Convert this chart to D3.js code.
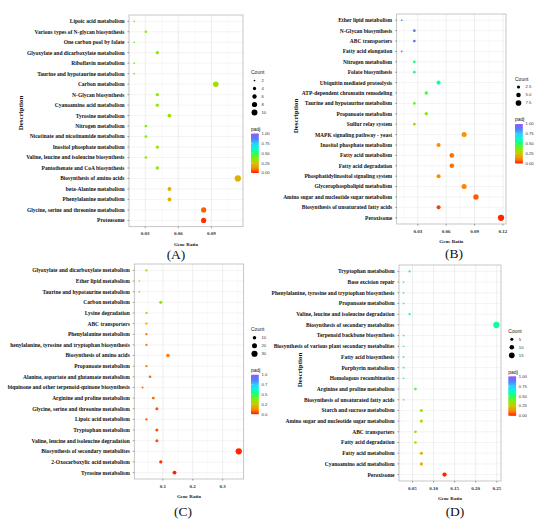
<!DOCTYPE html>
<html lang="en">
<head>
  <meta charset="UTF-8" />
  <title>KEGG enrichment</title>
  <script src="https://cdn.jsdelivr.net/npm/d3@7"></script>
  <style>
    body { margin: 0; background: #fff; }
    .term { font-family: "Liberation Serif", serif; font-weight: bold; font-size: 5.5px; fill: #111; }
    .tick-label { font-family: "Liberation Serif", serif; font-weight: bold; font-size: 5px; fill: #333; }
    .axis-title { font-family: "Liberation Serif", serif; font-weight: bold; font-size: 5px; fill: #111; }
    .desc { font-family: "Liberation Serif", serif; font-weight: bold; font-size: 7px; fill: #111; }
    .tag { font-family: "Liberation Serif", serif; font-size: 13.5px; fill: #111; }
    .leg-title { font-family: "Liberation Sans", sans-serif; font-size: 5px; fill: #1a1a1a; }
    .leg-label { font-family: "Liberation Sans", sans-serif; font-size: 4.2px; fill: #333; }
  </style>
</head>
<body>
<script>
  const width = 550;
  const height = 524;

  // panel A
  const aTerms = ["Lipoic acid metabolism", "Various types of N-glycan biosynthesis", "One carbon pool by folate",
    "Glyoxylate and dicarboxylate metabolism", "Riboflavin metabolism", "Taurine and hypotaurine metabolism",
    "Carbon metabolism", "N-Glycan biosynthesis", "Cyanoamino acid metabolism", "Tyrosine metabolism",
    "Nitrogen metabolism", "Nicotinate and nicotinamide metabolism", "Inositol phosphate metabolism",
    "Valine, leucine and isoleucine biosynthesis", "Pantothenate and CoA biosynthesis", "Biosynthesis of amino acids",
    "beta-Alanine metabolism", "Phenylalanine metabolism", "Glycine, serine and threonine metabolism", "Proteasome"];
  const aRatio = [0.020, 0.0306, 0.020, 0.041, 0.020, 0.020, 0.094, 0.041, 0.041, 0.052,
    0.0306, 0.0306, 0.041, 0.0306, 0.041, 0.114, 0.052, 0.052, 0.083, 0.083];
  const aCount = [2, 3, 2, 4, 2, 2, 9, 4, 4, 5, 3, 3, 4, 3, 4, 11, 5, 5, 8, 8];
  const aPadj = [0.41, 0.37, 0.41, 0.35, 0.41, 0.41, 0.33, 0.34, 0.34, 0.33,
    0.36, 0.36, 0.34, 0.36, 0.34, 0.2, 0.2, 0.2, 0.07, 0.02];
  const aTicks = [0.03, 0.06, 0.09];
  const aCountBreaks = [2, 4, 6, 8, 10];
  const aCountLabels = ["2", "4", "6", "8", "10"];
  const aPadjLabels = ["1.00", "0.75", "0.50", "0.25", "0.00"];

  // panel B
  const bTerms = ["Ether lipid metabolism", "N-Glycan biosynthesis", "ABC transporters", "Fatty acid elongation",
    "Nitrogen metabolism", "Folate biosynthesis", "Ubiquitin mediated proteolysis", "ATP-dependent chromatin remodeling",
    "Taurine and hypotaurine metabolism", "Propanoate metabolism", "Sulfur relay system", "MAPK signaling pathway - yeast",
    "Inositol phosphate metabolism", "Fatty acid metabolism", "Fatty acid degradation", "Phosphatidylinositol signaling system",
    "Glycerophospholipid metabolism", "Amino sugar and nucleotide sugar metabolism", "Biosynthesis of unsaturated fatty acids",
    "Peroxisome"];
  const bRatio = [0.013, 0.0264, 0.0264, 0.013, 0.0264, 0.0264, 0.052, 0.039, 0.0264, 0.039,
    0.0264, 0.079, 0.052, 0.066, 0.066, 0.052, 0.079, 0.0915, 0.052, 0.118];
  const bCount = [1, 2, 2, 1, 2, 2, 4, 3, 2, 3, 2, 6, 4, 5, 5, 4, 6, 7, 4, 9];
  const bPadj = [0.9, 0.9, 0.9, 0.9, 0.53, 0.53, 0.56, 0.46, 0.42, 0.36,
    0.27, 0.14, 0.12, 0.09, 0.09, 0.12, 0.11, 0.07, 0.04, 0.01];
  const bTicks = [0.03, 0.06, 0.09, 0.12];
  const bCountBreaks = [2.5, 5, 7.5];
  const bCountLabels = ["2.5", "5.0", "7.5"];
  const bPadjLabels = ["1.00", "0.75", "0.50", "0.25", "0.00"];

  // panel C
  const cTerms = ["Glyoxylate and dicarboxylate metabolism", "Ether lipid metabolism", "Taurine and hypotaurine metabolism",
    "Carbon metabolism", "Lysine degradation", "ABC transporters", "Phenylalanine metabolism",
    "henylalanine, tyrosine and tryptophan biosynthesis", "Biosynthesis of amino acids", "Propanoate metabolism",
    "Alanine, aspartate and glutamate metabolism", "biquinone and other terpenoid-quinone biosynthesis",
    "Arginine and proline metabolism", "Glycine, serine and threonine metabolism", "Lipoic acid metabolism",
    "Tryptophan metabolism", "Valine, leucine and isoleucine degradation", "Biosynthesis of secondary metabolites",
    "2-Oxocarboxylic acid metabolism", "Tyrosine metabolism"];
  const cRatio = [0.045, 0.021, 0.021, 0.093, 0.045, 0.045, 0.045, 0.045, 0.117, 0.045,
    0.057, 0.032, 0.068, 0.080, 0.045, 0.080, 0.080, 0.354, 0.093, 0.139];
  const cCount = [4, 2, 2, 8, 4, 4, 4, 4, 10, 4, 5, 3, 6, 7, 4, 7, 7, 31, 8, 12];
  const cPadj = [0.35, 0.36, 0.36, 0.34, 0.3, 0.2, 0.1, 0.1, 0.1, 0.1,
    0.08, 0.08, 0.08, 0.06, 0.06, 0.05, 0.05, 0.01, 0.02, 0.005];
  const cTicks = [0.1, 0.2, 0.3];
  const cCountBreaks = [10, 20, 30];
  const cCountLabels = ["10", "20", "30"];
  const cPadjLabels = ["1.0", "0.7", "0.5", "0.2", "0.0"];

  // panel D
  const dTerms = ["Tryptophan metabolism", "Base excision repair", "Phenylalanine, tyrosine and tryptophan biosynthesis",
    "Propanoate metabolism", "Valine, leucine and isoleucine degradation", "Biosynthesis of secondary metabolites",
    "Terpenoid backbone biosynthesis", "Biosynthesis of various plant secondary metabolites", "Fatty acid biosynthesis",
    "Porphyrin metabolism", "Homologous recombination", "Arginine and proline metabolism",
    "Biosynthesis of unsaturated fatty acids", "Starch and sucrose metabolism", "Amino sugar and nucleotide sugar metabolism",
    "ABC transporters", "Fatty acid degradation", "Fatty acid metabolism", "Cyanoamino acid metabolism", "Peroxisome"];
  const dRatio = [0.043, 0.029, 0.029, 0.029, 0.043, 0.249, 0.029, 0.029, 0.029, 0.029,
    0.029, 0.057, 0.029, 0.071, 0.071, 0.057, 0.057, 0.071, 0.071, 0.126];
  const dCount = [3, 2, 2, 2, 3, 18, 2, 2, 2, 2, 2, 4, 2, 5, 5, 4, 4, 5, 5, 9];
  const dPadj = [0.6, 0.62, 0.62, 0.62, 0.6, 0.56, 0.62, 0.62, 0.62, 0.62,
    0.62, 0.45, 0.45, 0.35, 0.35, 0.34, 0.34, 0.2, 0.2, 0.01];
  const dTicks = [0.05, 0.10, 0.15, 0.20, 0.25];
  const dCountBreaks = [5, 10, 15];
  const dCountLabels = ["5", "10", "15"];
  const dPadjLabels = ["1.00", "0.75", "0.50", "0.25", "0.00"];

  // padj colour ramp (red -> purple)
  const rampPos = [0, 0.12, 0.25, 0.37, 0.5, 0.62, 0.75, 0.87, 1];
  const rampCol = ["#ff1a00", "#ff8c00", "#c8c800", "#88ee00", "#22ff66", "#00ffd0", "#33ccff", "#4d80ff", "#9a55ff"];
  const color = d3.scaleLinear().domain(rampPos).range(rampCol).interpolate(d3.interpolateRgb);

  // layout of each panel (frame box, legend, labels)
  const panels = [
    { id: "a", terms: aTerms, ratio: aRatio, count: aCount, padj: aPadj, ticks: aTicks, fmt: d3.format(".2f"),
      countBreaks: aCountBreaks, countLabels: aCountLabels, padjLabels: aPadjLabels,
      x0: 129, x1: 243, y0: 15, y1: 226.7, legX: 251, legY: 72.5, tag: "(A)", tagX: 176, tagY: 259, desc: [20.7, 113] },
    { id: "b", terms: bTerms, ratio: bRatio, count: bCount, padj: bPadj, ticks: bTicks, fmt: d3.format(".2f"),
      countBreaks: bCountBreaks, countLabels: bCountLabels, padjLabels: bPadjLabels,
      x0: 396.7, x1: 506, y0: 14, y1: 224, legX: 515, legY: 79, tag: "(B)", tagX: 454, tagY: 258, desc: [295.7, 116] },
    { id: "c", terms: cTerms, ratio: cRatio, count: cCount, padj: cPadj, ticks: cTicks, fmt: d3.format(".1f"),
      countBreaks: cCountBreaks, countLabels: cCountLabels, padjLabels: cPadjLabels,
      x0: 134.3, x1: 243.7, y0: 264, y1: 479, legX: 251, legY: 329.7, tag: "(C)", tagX: 183, tagY: 516, desc: null },
    { id: "d", terms: dTerms, ratio: dRatio, count: dCount, padj: dPadj, ticks: dTicks, fmt: d3.format(".2f"),
      countBreaks: dCountBreaks, countLabels: dCountLabels, padjLabels: dPadjLabels,
      x0: 399, x1: 501, y0: 265, y1: 481, legX: 508.3, legY: 331.3, tag: "(D)", tagX: 455, tagY: 516, desc: [300, 370] }
  ];

  const svg = d3.select("body").append("svg")
    .attr("width", width)
    .attr("height", height);

  const defs = svg.append("defs");
  const grad = defs.append("linearGradient")
    .attr("id", "padjGrad")
    .attr("x1", 0).attr("y1", 1).attr("x2", 0).attr("y2", 0);
  grad.selectAll("stop")
    .data(d3.range(0, 1.0001, 0.05))
    .join("stop")
    .attr("offset", d => d)
    .attr("stop-color", d => color(d));

  panels.forEach(p => {
    const g = svg.append("g");
    const rows = p.terms.map((t, i) => ({ term: t, ratio: p.ratio[i], count: p.count[i], padj: p.padj[i] }));

    // x domain with ggplot-like 5% expansion
    const [lo, hi] = d3.extent(p.ratio);
    const pad = (hi - lo) * 0.05;
    const x = d3.scaleLinear().domain([lo - pad, hi + pad]).range([p.x0, p.x1]);
    const y = d3.scalePoint().domain(p.terms).range([p.y0, p.y1]).padding(0.6);

    // point size: area-linear like scale_size
    const [cMin, cMax] = d3.extent(p.count);
    const area = d3.scaleLinear().domain([cMin, cMax]).range([2.6, 36]);
    const radius = c => 0.52 * Math.sqrt(Math.max(0.8, area(c)));

    // panel background + grid
    g.append("rect")
      .attr("x", p.x0).attr("y", p.y0)
      .attr("width", p.x1 - p.x0).attr("height", p.y1 - p.y0)
      .attr("fill", "#fff");

    const step = p.ticks[1] - p.ticks[0];
    const minor = d3.range(p.ticks[0] - step / 2, hi + pad, step)
      .filter(v => v > lo - pad && v < hi + pad);
    g.selectAll(".minor")
      .data(minor)
      .join("line")
      .attr("x1", d => x(d)).attr("x2", d => x(d))
      .attr("y1", p.y0).attr("y2", p.y1)
      .attr("stroke", "#f2f2f2").attr("stroke-width", 0.4);

    g.selectAll(".major")
      .data(p.ticks)
      .join("line")
      .attr("x1", d => x(d)).attr("x2", d => x(d))
      .attr("y1", p.y0).attr("y2", p.y1)
      .attr("stroke", "#e3e3e3").attr("stroke-width", 0.6);

    g.selectAll(".hgrid")
      .data(p.terms)
      .join("line")
      .attr("x1", p.x0).attr("x2", p.x1)
      .attr("y1", d => y(d)).attr("y2", d => y(d))
      .attr("stroke", "#e8e8e8").attr("stroke-width", 0.5);

    // points
    g.selectAll("circle.pt")
      .data(rows)
      .join("circle")
      .attr("class", "pt")
      .attr("cx", d => x(d.ratio))
      .attr("cy", d => y(d.term))
      .attr("r", d => radius(d.count))
      .attr("fill", d => color(d.padj));

    // frame
    g.append("rect")
      .attr("x", p.x0).attr("y", p.y0)
      .attr("width", p.x1 - p.x0).attr("height", p.y1 - p.y0)
      .attr("fill", "none")
      .attr("stroke", "#b0b0b0").attr("stroke-width", 0.7);

    // y axis ticks + term labels
    g.selectAll(".yt")
      .data(p.terms)
      .join("line")
      .attr("x1", p.x0 - 1.6).attr("x2", p.x0)
      .attr("y1", d => y(d)).attr("y2", d => y(d))
      .attr("stroke", "#444").attr("stroke-width", 0.5);

    g.selectAll("text.term")
      .data(p.terms)
      .join("text")
      .attr("class", "term")
      .attr("x", p.x0 - 4.5)
      .attr("y", d => y(d))
      .attr("dy", "0.35em")
      .attr("text-anchor", "end")
      .text(d => d);

    // x axis ticks + labels
    g.selectAll(".xt")
      .data(p.ticks)
      .join("line")
      .attr("x1", d => x(d)).attr("x2", d => x(d))
      .attr("y1", p.y1).attr("y2", p.y1 + 1.6)
      .attr("stroke", "#444").attr("stroke-width", 0.5);

    g.selectAll("text.tick-label")
      .data(p.ticks)
      .join("text")
      .attr("class", "tick-label")
      .attr("x", d => x(d))
      .attr("y", p.y1 + 8.5)
      .attr("text-anchor", "middle")
      .text(d => p.fmt(d));

    g.append("text")
      .attr("class", "axis-title")
      .attr("x", (p.x0 + p.x1) / 2)
      .attr("y", p.y1 + 19)
      .attr("text-anchor", "middle")
      .text("Gene Ratio");

    if (p.desc) {
      g.append("text")
        .attr("class", "desc")
        .attr("transform", `translate(${p.desc[0]},${p.desc[1]}) rotate(-90)`)
        .attr("dy", "0.35em")
        .attr("text-anchor", "middle")
        .text("Description");
    }

    g.append("text")
      .attr("class", "tag")
      .attr("x", p.tagX).attr("y", p.tagY)
      .attr("text-anchor", "middle")
      .text(p.tag);

    // size legend
    const lg = g.append("g").attr("transform", `translate(${p.legX},${p.legY})`);
    lg.append("text").attr("class", "leg-title").attr("x", 0).attr("y", 0).attr("dy", "0.35em").text("Count");
    lg.selectAll("circle")
      .data(p.countBreaks)
      .join("circle")
      .attr("cx", 3.5)
      .attr("cy", (d, i) => 8 + i * 8)
      .attr("r", d => radius(d))
      .attr("fill", "#000");
    lg.selectAll("text.leg-label")
      .data(p.countLabels)
      .join("text")
      .attr("class", "leg-label")
      .attr("x", 10.5)
      .attr("y", (d, i) => 8 + i * 8)
      .attr("dy", "0.35em")
      .text(d => d);

    // colour legend
    const top = p.legY + 8 + (p.countBreaks.length - 1) * 8 + 21;
    const cg = g.append("g").attr("transform", `translate(${p.legX},${top})`);
    cg.append("text").attr("class", "leg-title").attr("x", 0).attr("y", -4.5).attr("dy", "0.35em").text("padj");
    const barH = 39.5;
    const cy = d3.scaleLinear().domain([0, 1]).range([barH, 0]);
    cg.append("rect")
      .attr("x", 0).attr("y", 0)
      .attr("width", 7.8).attr("height", barH)
      .attr("fill", "url(#padjGrad)");
    const padjVals = [1, 0.75, 0.5, 0.25, 0];
    cg.selectAll("line")
      .data(padjVals)
      .join("line")
      .attr("x1", 0).attr("x2", 1.4)
      .attr("y1", d => cy(d)).attr("y2", d => cy(d))
      .attr("stroke", "#fff").attr("stroke-width", 0.4);
    cg.selectAll("text.leg-label")
      .data(p.padjLabels)
      .join("text")
      .attr("class", "leg-label")
      .attr("x", 10.5)
      .attr("y", (d, i) => cy(padjVals[i]))
      .attr("dy", "0.35em")
      .text(d => d);
  });
</script>
</body>
</html>
